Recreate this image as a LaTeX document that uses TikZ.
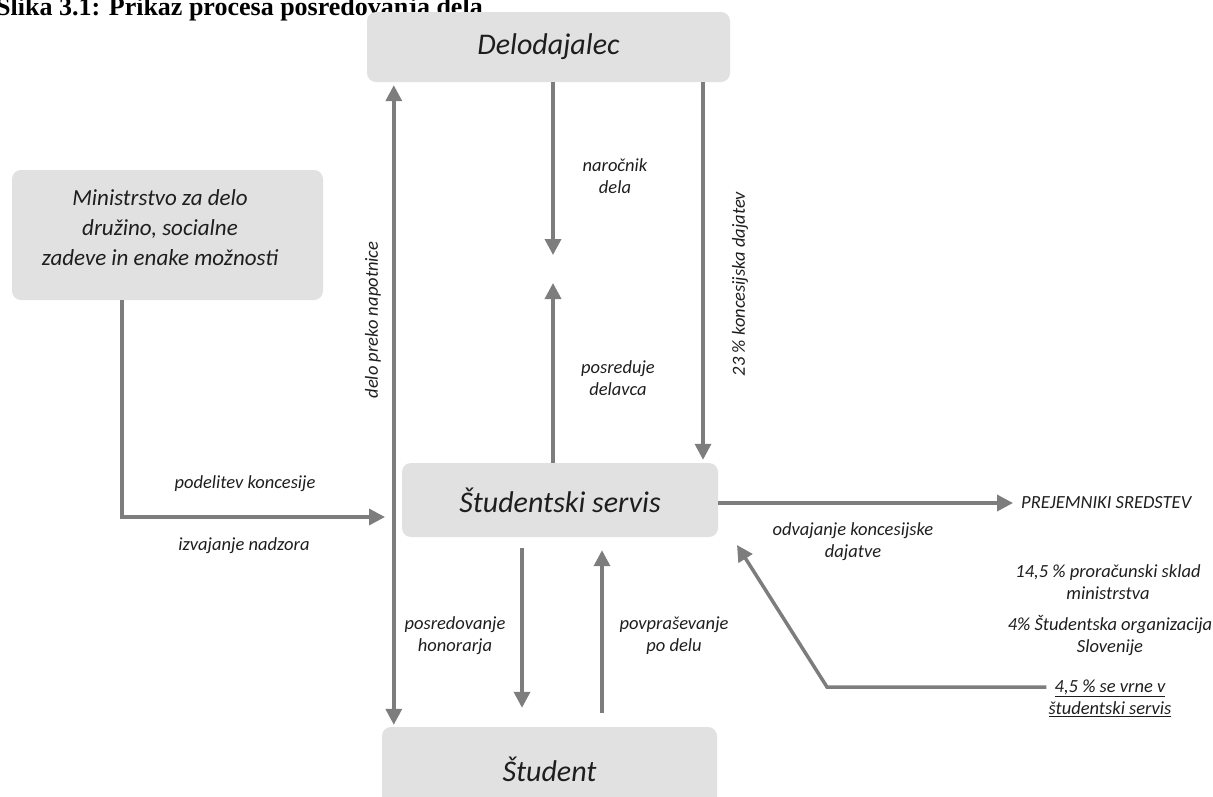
\documentclass[tikz,border=0pt]{standalone}
\usepackage{fontspec}
\setmainfont{Carlito}
\newfontfamily\naslovfont{Liberation Serif}
\usetikzlibrary{arrows.meta}

\definecolor{okvirsiva}{RGB}{225,225,225}
\definecolor{puscicasiva}{RGB}{125,125,125}
\definecolor{besedilo}{RGB}{30,30,30}

\tikzset{
  okvir/.style={fill=okvirsiva, rounded corners=9pt, text=besedilo,
    font=\itshape\fontsize{30}{36}\selectfont},
  opis/.style={align=center, text=besedilo, inner sep=2pt,
    font=\itshape\fontsize{18.5}{22}\selectfont},
  puscica/.style={draw=puscicasiva, line width=3.5pt},
}

\begin{document}
\begin{tikzpicture}[x=1pt, y=-1pt, >={Triangle[length=16pt,width=16pt]}]
  % Okvir slike
  \clip (0,0) rectangle (1213,796);

  % Naslov
  \node[anchor=base west, inner sep=0pt, text=black,
    font=\naslovfont\bfseries\fontsize{26}{30}\selectfont] (naslov) at (-4,15)
    {Slika 3.1: Prikaz procesa posredovanja dela};

  % Akterji
  \node[okvir, minimum width=363pt, minimum height=70pt] (delodajalec) at (548.5,47) {Delodajalec};
  \node[okvir, minimum width=311pt, minimum height=130pt] (ministrstvo) at (167.5,235) {};
  \node[align=center, text=besedilo, font=\itshape\fontsize{23}{30}\selectfont]
    (ministrstvoTxt) at (160,228) {Ministrstvo za delo\\družino, socialne\\zadeve in enake možnosti};
  \node[okvir, minimum width=316pt, minimum height=74pt] (servis) at (560,500) {Študentski servis};
  \node[okvir, minimum width=335pt, minimum height=84pt] (student) at (549.5,769) {Študent};

  % Prejemniki sredstev
  \node[opis, anchor=west, inner sep=8pt] (prejemniki) at (1013,503) {PREJEMNIKI SREDSTEV};
  \node[opis] (sklad) at (1108,582) {14,5 \% proračunski sklad\\ministrstva};
  \node[opis] (sos) at (1110,636) {4\% Študentska organizacija\\Slovenije};
  \node[opis] (vrne) at (1110,698) {\underline{4,5 \% se vrne v}\\\underline{študentski servis}};

  % Tocke za puscice
  \coordinate (narocnikT) at (553,255);
  \coordinate (posredujeT) at (553,283);
  \coordinate (nadzorT) at (385,517);
  \coordinate (lom) at (827,687);
  \coordinate (vracilo) at (737,545);

  % Puscice
  \draw[puscica, <->, shorten <=3pt, shorten >=2pt] ([xshift=27pt]delodajalec.south west)
    -- ([xshift=12pt]student.north west);
  \draw[puscica, ->] ([xshift=4.5pt]delodajalec.south) -- (narocnikT);
  \draw[puscica, ->] ([xshift=-7pt]servis.north) -- (posredujeT);
  \draw[puscica, ->, shorten >=3pt] ([xshift=154.5pt]delodajalec.south) -- ([xshift=143pt]servis.north);
  \draw[puscica, ->] ([xshift=-45.5pt]ministrstvo.south) |- (nadzorT);
  \draw[puscica, ->] ([yshift=-3pt]servis.east) -- (prejemniki.west);
  \draw[puscica, ->] ([yshift=11pt]vrne.west) -- (lom) -- (vracilo);
  \draw[puscica, ->, shorten <=11pt, shorten >=19pt] ([xshift=-38pt]servis.south) -- ([xshift=-27.5pt]student.north);
  \draw[puscica, ->, shorten <=14pt, shorten >=13pt] ([xshift=52.5pt]student.north) -- ([xshift=42pt]servis.south);

  % Opisi
  \node[opis, rotate=90] (napotnica) at (373,320) {delo preko napotnice};
  \node[opis] (narocnik) at (615,176) {naročnik\\dela};
  \node[opis] (posreduje) at (618,378) {posreduje\\delavca};
  \node[opis, rotate=90] (dajatev) at (740,284) {23 \% koncesijska dajatev};
  \node[opis] (podelitev) at (245,484) {podelitev koncesije};
  \node[opis] (nadzor) at (244,546) {izvajanje nadzora};
  \node[opis] (odvajanje) at (853,542) {odvajanje koncesijske\\dajatve};
  \node[opis] (honorar) at (455,636) {posredovanje\\honorarja};
  \node[opis] (povprasevanje) at (674,636) {povpraševanje\\po delu};
\end{tikzpicture}
\end{document}
